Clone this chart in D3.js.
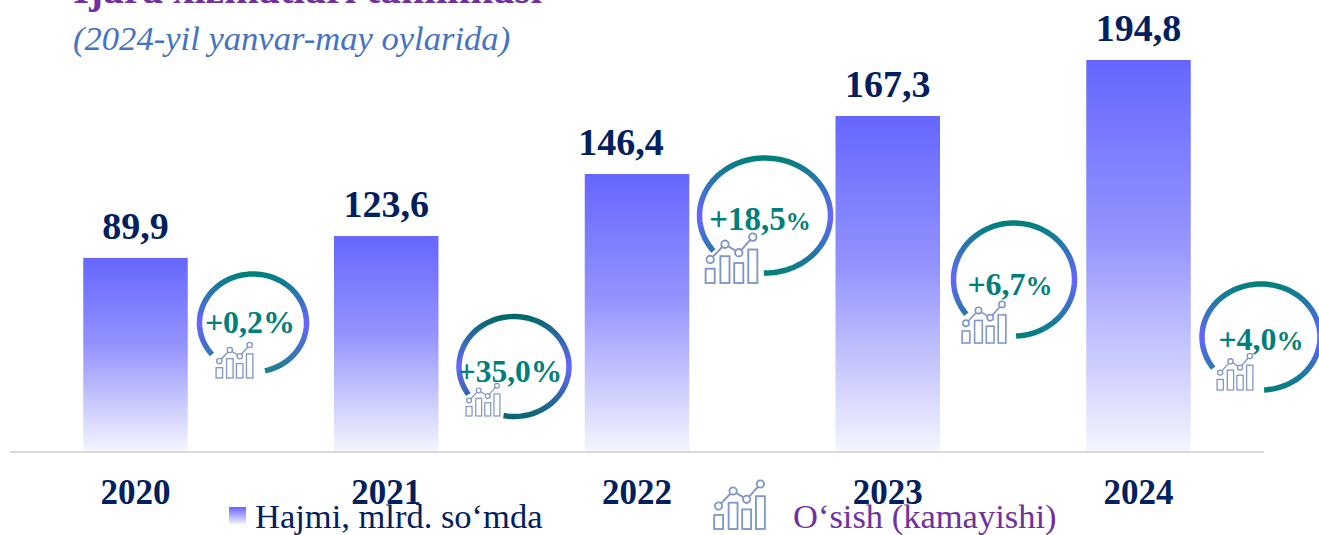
<!DOCTYPE html>
<html><head><meta charset="utf-8">
<script src="https://cdn.jsdelivr.net/npm/d3@7"></script>
<style>html,body{margin:0;padding:0;background:#fff;overflow:hidden}svg{display:block}
text{font-family:"Liberation Serif","Times New Roman",serif}</style></head>
<body><svg id="c" width="1319" height="535"></svg>
<script>
const years = ["2020","2021","2022","2023","2024"];
const valueLabels = ["89,9","123,6","146,4","167,3","194,8"];
// Bar levels as drawn in the picture (the source bars are not proportional to their printed labels)
const barLevels = [96.2,107.1,138,166.9,194.8];
const growthNumbers = ["+0,2","+35,0","+18,5","+6,7","+4,0"];
const legendLabels = ["Hajmi, mlrd. so‘mda","O‘sish (kamayishi)"];
const titleText = "Ijara xizmatlari tahlilinasi";
const subtitleText = "(2024-yil yanvar-may oylarida)";
const iconBars = [0.286,0.537,0.40,0.67];
const iconLine = [0.47,0.775,0.605,0.918];

// layout, kept apart from the data
const labelShift = [0,0,-16,0,0];
const rings = [
 {cx:253,cy:323,rx:53.5,ry:49,a0:230,a1:529,top:"#00807c",bot:"#1a7f8c",tx:250,ty:333,fs:32,ps:32,ic:[216,342,37,36]},
 {cx:514,cy:366.5,rx:55,ry:50,a0:236,a1:552,top:"#006a6a",bot:"#0a6670",tx:510,ty:382,fs:31.5,ps:31.5,ic:[466,383,34,33]},
 {cx:765,cy:215.5,rx:65.5,ry:57.5,a0:232,a1:542,top:"#00807c",bot:"#00807c",tx:760,ty:230,fs:33,ps:25,ic:[705.5,233,52,50]},
 {cx:1014,cy:279.5,rx:60.5,ry:56.5,a0:232,a1:538,top:"#00807c",bot:"#00807c",tx:1010,ty:295,fs:32,ps:27,ic:[962,301,44,42]},
 {cx:1261,cy:337,rx:59,ry:53,a0:234,a1:539,top:"#00807c",bot:"#00807c",tx:1261,ty:350,fs:32,ps:27,ic:[1217,353,36,37]}
];
const svg = d3.select("#c"), baseY = 451;
const defs = svg.append("defs");
const barGrad = defs.append("linearGradient").attr("id","bar").attr("x1",0).attr("x2",0).attr("y1",0).attr("y2",1);
barGrad.append("stop").attr("offset","0").attr("stop-color","#6666ff");
barGrad.append("stop").attr("offset","0.45").attr("stop-color","#9393fd");
barGrad.append("stop").attr("offset","1").attr("stop-color","#f4f5fd");

const x = d3.scalePoint().domain(years).range([135.5,1138.5]);
const y = d3.scaleLinear().domain([0,194.8]).range([baseY,60]);
const bw = 104.5;

// title
svg.append("text").attr("x",73).attr("y",3).attr("font-size",41.6).attr("font-weight","bold").attr("fill","#7030a0").text(titleText);
svg.append("text").attr("x",73).attr("y",50).attr("font-size",34.6).attr("font-style","italic").attr("fill","#4472c4").text(subtitleText);

// bars
svg.selectAll("rect.bar").data(years).join("rect").attr("class","bar")
 .attr("x",d=>x(d)-bw/2).attr("width",bw)
 .attr("y",(d,i)=>y(barLevels[i])).attr("height",(d,i)=>baseY-y(barLevels[i]))
 .attr("fill","url(#bar)");

// baseline
svg.append("line").attr("x1",10).attr("x2",1264).attr("y1",452).attr("y2",452).attr("stroke","#d9d9d9").attr("stroke-width",2);

// value labels
svg.selectAll("text.val").data(years).join("text").attr("class","val")
 .attr("x",(d,i)=>x(d)+labelShift[i]).attr("y",(d,i)=>y(barLevels[i])-19)
 .attr("text-anchor","middle").attr("font-size",38).attr("font-weight","bold").attr("fill","#002060")
 .text((d,i)=>valueLabels[i]);

// year labels
svg.selectAll("text.yr").data(years).join("text").attr("class","yr")
 .attr("x",d=>x(d)).attr("y",504)
 .attr("text-anchor","middle").attr("font-size",35).attr("font-weight","bold").attr("fill","#002060")
 .text(d=>d);

function icon(g,b){
  const [ix,iy,w,h]=b;
  const sx=d3.scaleLinear().domain([0,1]).range([ix,ix+w]);
  const sy=d3.scaleLinear().domain([0,1]).range([iy+h,iy]);
  const cent=[0.09,0.374,0.64,0.91];
  const band=0.175;
  const sw=Math.max(1.2,w/28);
  g.selectAll("rect").data(iconBars).join("rect")
   .attr("x",(d,i)=>sx(cent[i]-band/2)).attr("width",sx(band)-sx(0))
   .attr("y",d=>sy(d)).attr("height",d=>sy(0)-sy(d))
   .attr("fill","#fff").attr("fill-opacity",0.5).attr("stroke","#7f96c8").attr("stroke-width",sw);
  const pts=iconLine.map((v,i)=>[sx(cent[i]),sy(v)]);
  g.append("path").attr("d",d3.line()(pts)).attr("fill","none").attr("stroke","#8092c4").attr("stroke-width",sw);
  g.selectAll("circle").data(pts).join("circle").attr("cx",d=>d[0]).attr("cy",d=>d[1]).attr("r",w/14)
   .attr("fill","#fff").attr("stroke","#7f96c8").attr("stroke-width",sw);
}

// rings
rings.forEach((r,i)=>{
  const gid="rg"+i;
  const g=defs.append("linearGradient").attr("id",gid).attr("gradientUnits","userSpaceOnUse")
    .attr("x1",0).attr("x2",0).attr("y1",r.cy-r.ry).attr("y2",r.cy+r.ry);
  g.append("stop").attr("offset","0").attr("stop-color",r.top);
  g.append("stop").attr("offset","0.5").attr("stop-color","#6666ff");
  g.append("stop").attr("offset","1").attr("stop-color",r.bot);
  const ang=d3.range(r.a0,r.a1+1,3).map(a=>a*Math.PI/180);
  // angles measured clockwise from the top
  const pts=ang.map(a=>[r.cx+r.rx*Math.sin(a),r.cy-r.ry*Math.cos(a)]);
  svg.append("path").attr("d",d3.line()(pts)).attr("fill","none").attr("stroke",`url(#${gid})`).attr("stroke-width",5.5);
  const t=svg.append("text").attr("x",r.tx).attr("y",r.ty).attr("text-anchor","middle").attr("font-weight","bold").attr("fill","#00807c").attr("font-size",r.fs);
  t.append("tspan").text(growthNumbers[i]);
  t.append("tspan").attr("font-size",r.ps).text("%");
  icon(svg.append("g"),r.ic);
});

// legend
const lg=defs.append("linearGradient").attr("id","lg").attr("x1",0).attr("x2",0).attr("y1",0).attr("y2",1);
lg.append("stop").attr("offset","0").attr("stop-color","#6666ff");
lg.append("stop").attr("offset","1").attr("stop-color","#f0f0ff");
svg.append("rect").attr("x",229).attr("y",507).attr("width",17).attr("height",17).attr("fill","url(#lg)");
svg.append("text").attr("x",255).attr("y",528).attr("font-size",34.5).attr("fill","#002060").text(legendLabels[0]);
icon(svg.append("g"),[714,480,51,49]);
svg.append("text").attr("x",793).attr("y",528).attr("font-size",34.5).attr("fill","#7030a0").text(legendLabels[1]);
</script></body></html>
